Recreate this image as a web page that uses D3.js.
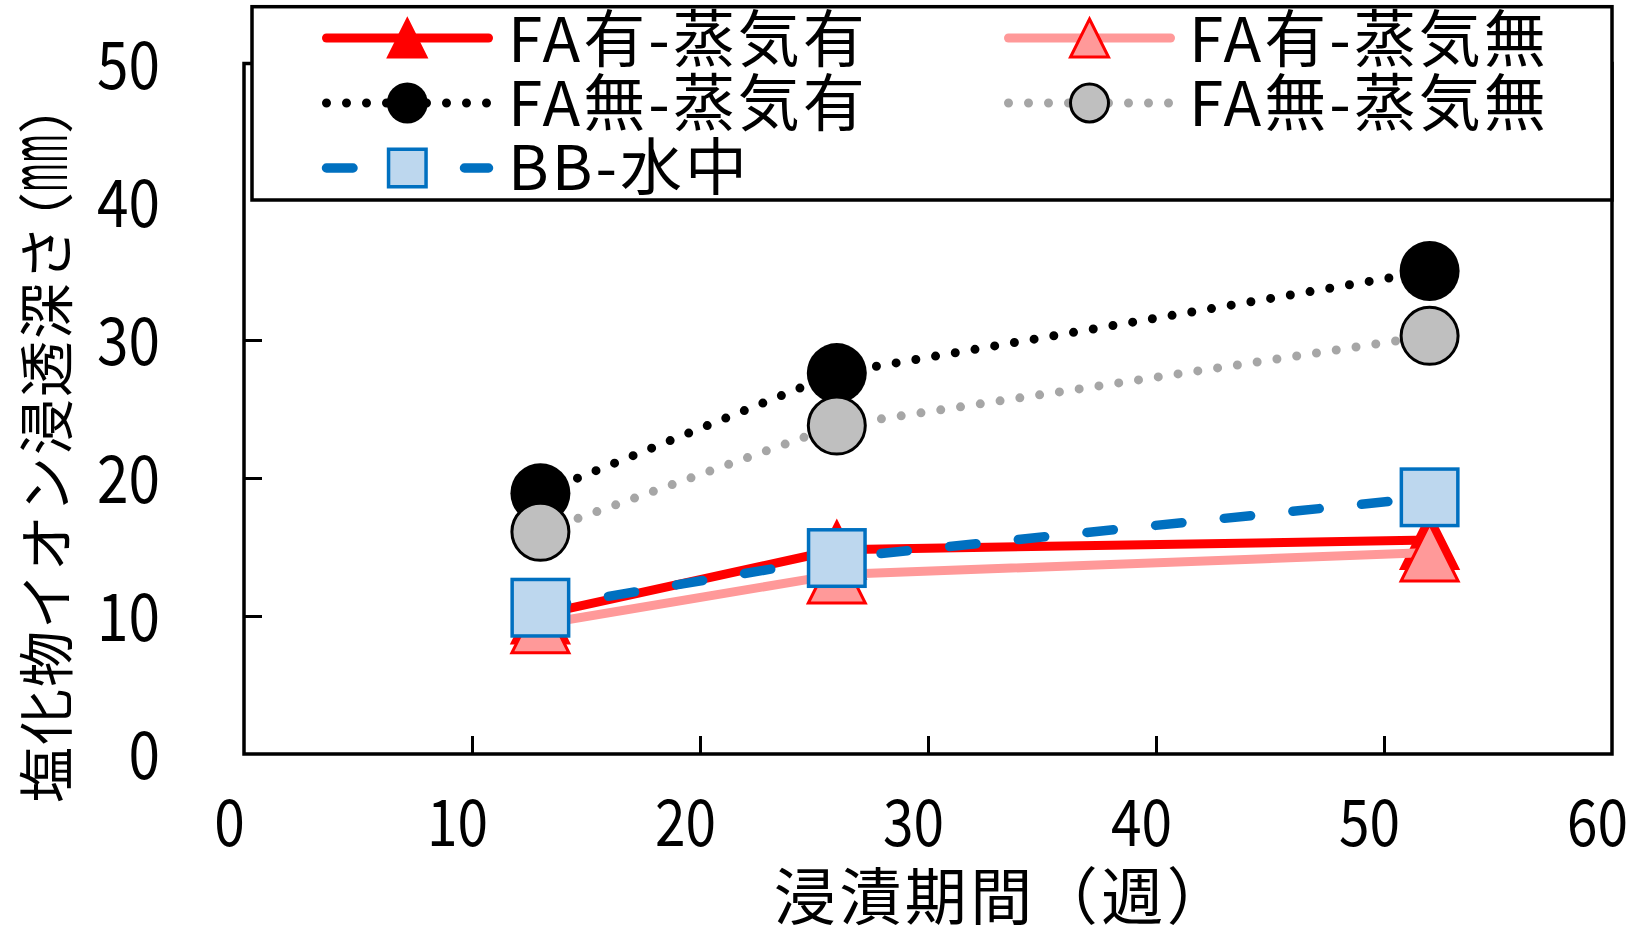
<!DOCTYPE html>
<html>
<head>
<meta charset="utf-8">
<script src="https://cdn.jsdelivr.net/npm/d3@7"></script>
<style>
  html, body { margin: 0; padding: 0; background: #ffffff; }
  svg { display: block; }
</style>
</head>
<body>
<svg id="chart" width="1639" height="926"></svg>
<script>
// ---------------- data ----------------
const weeks = [13, 26, 52];
const faYesSteamYes = [10.1, 14.8, 15.5];   // FA有-蒸気有
const faYesSteamNo  = [9.4, 13.0, 14.6];    // FA有-蒸気無
const faNoSteamYes  = [18.9, 27.6, 35.0];   // FA無-蒸気有
const faNoSteamNo   = [16.1, 23.8, 30.3];   // FA無-蒸気無
const bbWater       = [10.6, 14.2, 18.6];   // BB-水中
const seriesNames = ["FA有-蒸気有", "FA有-蒸気無", "FA無-蒸気有", "FA無-蒸気無", "BB-水中"];
const xTicks = [0, 10, 20, 30, 40, 50, 60];
const yTicks = [0, 10, 20, 30, 40, 50];
const xTitle = "浸漬期間（週）";
const yTitleMain = "塩化物イオン浸透深さ";
const yTitleUnit = ["（", "mm", "）"];

const FONT = '"Noto Sans CJK JP", "Noto Sans", sans-serif';

const series = [
  { name: seriesNames[0], values: faYesSteamYes, stroke: "#FF0000", width: 9, dash: null,
    marker: "triangle", fill: "#FF0000", mstroke: "#FF0000", mw: 2 },
  { name: seriesNames[1], values: faYesSteamNo, stroke: "#FF9999", width: 9, dash: null,
    marker: "triangle", fill: "#FF9999", mstroke: "#FF0000", mw: 3 },
  { name: seriesNames[2], values: faNoSteamYes, stroke: "#000000", width: 9, dash: "0 20",
    marker: "circle", fill: "#000000", mstroke: "none", mw: 0 },
  { name: seriesNames[3], values: faNoSteamNo, stroke: "#A6A6A6", width: 9, dash: "0 20",
    marker: "circle", fill: "#BFBFBF", mstroke: "#000000", mw: 3 },
  { name: seriesNames[4], values: bbWater, stroke: "#0070C0", width: 9.5, dash: "26.5 42.5",
    marker: "square", fill: "#BDD7EE", mstroke: "#0070C0", mw: 3.5 }
];

const svg = d3.select("#chart");

const x = d3.scaleLinear().domain([0, 60]).range([244, 1612]);
const y = d3.scaleLinear().domain([0, 50]).range([754, 64]);

// ---------------- frame ----------------
svg.append("rect")
  .attr("x", x(0)).attr("y", 63.5)
  .attr("width", x(60) - x(0)).attr("height", y(0) - 63.5)
  .attr("fill", "none").attr("stroke", "#000").attr("stroke-width", 3.5);

// ---------------- axes ----------------
const gx = svg.append("g")
  .attr("transform", `translate(0,${y(0)})`)
  .call(d3.axisBottom(x).tickValues(xTicks).tickSizeInner(-18).tickSizeOuter(0).tickFormat(d3.format("d")));
gx.attr("font-family", FONT).attr("font-size", 64);
gx.select(".domain").remove();
gx.selectAll(".tick line").attr("stroke", "#000").attr("stroke-width", 3)
  .filter(d => d === 0 || d === 60).remove();
gx.selectAll(".tick text")
  .attr("x", null).attr("y", null).attr("dy", null)
  .attr("fill", "#000")
  .attr("text-anchor", "middle")
  .attr("transform", "translate(-15,92) scale(0.86,1)");

const gy = svg.append("g")
  .attr("transform", `translate(${x(0)},0)`)
  .call(d3.axisLeft(y).tickValues(yTicks).tickSizeInner(-18).tickSizeOuter(0).tickFormat(d3.format("d")));
gy.attr("font-family", FONT).attr("font-size", 66);
gy.select(".domain").remove();
gy.selectAll(".tick line").attr("stroke", "#000").attr("stroke-width", 3)
  .filter(d => d === 0 || d >= 40).remove();
gy.selectAll(".tick text")
  .attr("x", null).attr("y", null).attr("dy", null)
  .attr("fill", "#000")
  .attr("text-anchor", "end")
  .attr("transform", "translate(-84,24) scale(0.86,1)");

// ---------------- axis titles ----------------
svg.append("text")
  .attr("x", 1003).attr("y", 920)
  .attr("text-anchor", "middle")
  .attr("font-family", FONT).attr("font-size", 62)
  .attr("letter-spacing", 3.5)
  .attr("fill", "#000")
  .text(xTitle);

const yt = svg.append("text")
  .attr("transform", "translate(67,803) rotate(-90)")
  .attr("text-anchor", "start")
  .attr("font-family", FONT).attr("font-size", 56)
  .attr("fill", "#000");
yt.append("tspan").attr("letter-spacing", 2).text(yTitleMain);
yt.append("tspan").attr("dx", -25).text(yTitleUnit[0]);
yt.append("tspan").attr("font-size", 80).attr("textLength", 58)
  .attr("lengthAdjust", "spacingAndGlyphs").text(yTitleUnit[1]);
yt.append("tspan").text(yTitleUnit[2]);

// ---------------- markers ----------------
function drawMarker(g, type, cx, cy, size, s) {
  const h = size / 2;
  if (type === "triangle") {
    const hh = h - s.mw / 2;
    g.append("path")
      .attr("d", `M${cx},${cy - hh} L${cx + hh},${cy + hh} L${cx - hh},${cy + hh} Z`)
      .attr("fill", s.fill).attr("stroke", s.mstroke).attr("stroke-width", s.mw)
      .attr("stroke-linejoin", "miter");
  } else if (type === "circle") {
    g.append("circle")
      .attr("cx", cx).attr("cy", cy).attr("r", h - s.mw / 2)
      .attr("fill", s.fill).attr("stroke", s.mstroke).attr("stroke-width", s.mw);
  } else {
    const hh = h - s.mw / 2;
    g.append("rect")
      .attr("x", cx - hh).attr("y", cy - hh).attr("width", 2 * hh).attr("height", 2 * hh)
      .attr("fill", s.fill).attr("stroke", s.mstroke).attr("stroke-width", s.mw);
  }
}

// ---------------- series ----------------
const line = d3.line().x((d, i) => x(weeks[i])).y(d => y(d));
series.forEach(s => {
  const g = svg.append("g");
  g.append("path")
    .attr("d", line(s.values))
    .attr("fill", "none")
    .attr("stroke", s.stroke)
    .attr("stroke-width", s.width)
    .attr("stroke-linecap", "round")
    .attr("stroke-linejoin", "round")
    .attr("stroke-dasharray", s.dash);
  s.values.forEach((v, i) => drawMarker(g, s.marker, x(weeks[i]), y(v), 60, s));
});

// ---------------- legend ----------------
const lg = svg.append("g");
lg.append("rect")
  .attr("x", 252).attr("y", 6.7)
  .attr("width", 1612 - 252).attr("height", 200 - 6.7)
  .attr("fill", "#fff").attr("stroke", "#000").attr("stroke-width", 3.5);

const legendCols = [{ lx0: 326.5, lx1: 488.5, mx: 407.3, tx: 508 },
                    { lx0: 1008.5, lx1: 1170.5, mx: 1089.5, tx: 1189 }];
const legendRowsY = [38, 103, 168];
const legendBase = [62, 126, 190];
series.forEach((s, i) => {
  const col = legendCols[i % 2];
  const row = Math.floor(i / 2);
  const cy = legendRowsY[row];
  const g = lg.append("g");
  g.append("path")
    .attr("d", d3.line()([[col.lx0, cy], [col.lx1, cy]]))
    .attr("fill", "none")
    .attr("stroke", s.stroke)
    .attr("stroke-width", s.width)
    .attr("stroke-linecap", "round")
    .attr("stroke-dasharray", s.dash);
  drawMarker(g, s.marker, col.mx, cy, 41, s);
  g.append("text")
    .attr("x", col.tx).attr("y", legendBase[row])
    .attr("font-family", FONT).attr("font-size", 62)
    .attr("letter-spacing", 3)
    .attr("fill", "#000")
    .text(s.name);
});
</script>
</body>
</html>
